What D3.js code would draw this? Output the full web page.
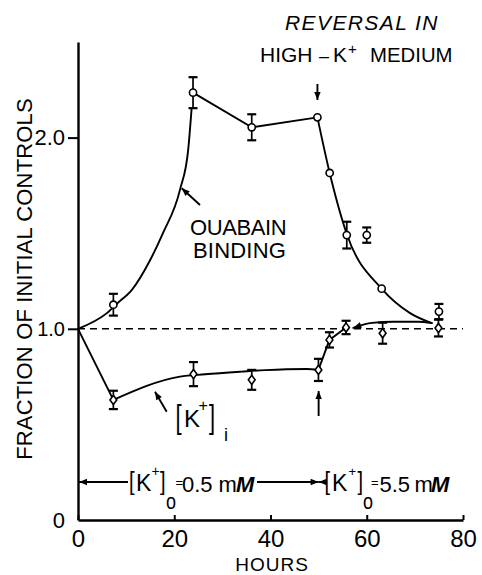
<!DOCTYPE html>
<html>
<head>
<meta charset="utf-8">
<script src="https://cdn.jsdelivr.net/npm/d3@7"></script>
<style>
  html, body { margin: 0; padding: 0; background: #fff; }
  svg { display: block; font-family: "Liberation Sans", Arial, Helvetica, sans-serif; }
</style>
</head>
<body>
<svg id="chart" width="482" height="575"></svg>
<script>
// Ouabain binding, fraction of initial controls
const ouabainHours  = [7.35, 23.9, 36.1, 49.75, 52.3, 55.85, 60.0, 63.1, 75.0];
const ouabainValues = [1.126, 2.235, 2.054, 2.106, 1.815, 1.49, 1.49, 1.21, 1.09];
const ouabainErrors = [0.057, 0.081, 0.068, 0, 0, 0.07, 0.04, 0, 0.04];

// Intracellular K+, fraction of initial controls
const kHours  = [7.35, 24.0, 36.1, 49.96, 52.25, 55.7, 63.3, 74.9];
const kValues = [0.628, 0.763, 0.733, 0.785, 0.942, 1.007, 0.977, 1.004];
const kErrors = [0.048, 0.063, 0.052, 0.058, 0.04, 0.035, 0.055, 0.044];

// Hand-drawn trend curves, [hours, fraction]
const ouabainRise    = [[0, 1.0], [6, 1.082], [8.3, 1.136], [11.2, 1.204], [15.0, 1.36], [17.7, 1.503], [21.2, 1.728], [22.9, 1.937], [23.6, 2.15]];
const ouabainPlateau = [[23.9, 2.235], [36.1, 2.054], [49.75, 2.106]];
const ouabainFall    = [[49.75, 2.106], [52.3, 1.815], [55.85, 1.496], [63.1, 1.21], [69.0, 1.082], [73.5, 1.03]];
const kFall          = [[0, 1.0], [7.35, 0.628]];
const kRecovery      = [[7.35, 0.628], [21.2, 0.75], [26.4, 0.762], [34.0, 0.776], [38.9, 0.784], [47.5, 0.79], [49.96, 0.786]];
const kShift         = [[49.96, 0.785], [52.25, 0.942], [55.7, 1.007]];
const kReturn        = [[57.2, 1.005], [61.1, 1.031], [65.5, 1.037], [70.7, 1.037], [73.5, 1.03]];

// Axis ticks
const xTicks = [0, 20, 40, 60, 80];
const yTicks = [0, 1, 2];
const yTickLabels = ["0", "1.0", "2.0"];
const yTickSizes = [22, 20, 22];

const baseline = 1.0;      // initial control level
const switchHour = 50;     // medium changed to high K+

const svg = d3.select("#chart");
const x = d3.scaleLinear().domain([0, 80]).range([78, 463]);
const y = d3.scaleLinear().domain([0, 2.5]).range([520, 42]);

const defs = svg.append("defs");
defs.append("marker")
  .attr("id", "ah").attr("viewBox", "0 -5 10 10")
  .attr("refX", 10).attr("refY", 0)
  .attr("markerUnits", "userSpaceOnUse")
  .attr("markerWidth", 9).attr("markerHeight", 8)
  .attr("orient", "auto-start-reverse")
  .append("path").attr("d", "M0,-4L10,0L0,4Z").attr("fill", "#000");

// ---- axes ----
const yAxis = svg.append("g")
  .attr("transform", `translate(${x(0)},0)`)
  .call(d3.axisLeft(y).tickValues(yTicks)
    .tickFormat((d, i) => yTickLabels[i])
    .tickSize(10).tickSizeOuter(0).tickPadding(3));
yAxis.select(".domain").attr("stroke", "#000").attr("stroke-width", 2.4);
yAxis.selectAll(".tick line").attr("stroke", "#000").attr("stroke-width", 2)
  .filter(d => d === 0).remove();
yAxis.selectAll(".tick text")
  .attr("font-size", (d, i) => yTickSizes[i])
  .attr("font-family", "Liberation Sans, Arial, sans-serif")
  .attr("fill", "#000");

const xAxis = svg.append("g")
  .attr("transform", `translate(0,${y(0)})`)
  .call(d3.axisBottom(x).tickValues(xTicks)
    .tickSizeInner(-5).tickSizeOuter(0).tickPadding(10));
xAxis.select(".domain").attr("stroke", "#000").attr("stroke-width", 2.4);
xAxis.selectAll(".tick line").attr("stroke", "#000").attr("stroke-width", 2);
xAxis.selectAll(".tick text")
  .attr("font-size", 24)
  .attr("font-family", "Liberation Sans, Arial, sans-serif")
  .attr("fill", "#000");

svg.append("text")
  .attr("x", 272).attr("y", 571)
  .attr("text-anchor", "middle").attr("font-size", 19).attr("letter-spacing", 1)
  .text("HOURS");

svg.append("text")
  .attr("transform", "translate(32,279) rotate(-90)")
  .attr("text-anchor", "middle").attr("font-size", 22).attr("letter-spacing", 0.15)
  .text("FRACTION OF INITIAL CONTROLS");

// ---- control level ----
svg.append("line")
  .attr("x1", x(0)).attr("x2", x(80))
  .attr("y1", y(baseline)).attr("y2", y(baseline))
  .attr("stroke", "#000").attr("stroke-width", 1.6)
  .attr("stroke-dasharray", "7,5");

// ---- trend curves ----
const smooth = d3.line().x(d => x(d[0])).y(d => y(d[1])).curve(d3.curveMonotoneX);
const straight = d3.line().x(d => x(d[0])).y(d => y(d[1]));
const curves = svg.append("g").attr("fill", "none").attr("stroke", "#000")
  .attr("stroke-width", 1.9).attr("stroke-linecap", "round");

curves.append("path").attr("d", smooth(ouabainRise));
curves.append("path").attr("d", straight(ouabainPlateau));
curves.append("path").attr("d", smooth(ouabainFall));
curves.append("path").attr("d", straight(kFall));
curves.append("path").attr("d", smooth(kRecovery));
curves.append("path").attr("d", straight(kShift));
curves.append("path").attr("d", smooth(kReturn)).attr("marker-start", "url(#ah)");

// ---- error bars ----
function errorBars(hours, values, errors) {
  const g = svg.append("g").attr("stroke", "#000");
  hours.forEach((h, i) => {
    const e = errors[i];
    if (!e) return;
    const cx = x(h), top = y(values[i] + e), bot = y(values[i] - e);
    g.append("line").attr("x1", cx).attr("x2", cx).attr("y1", top).attr("y2", bot).attr("stroke-width", 1.7);
    [top, bot].forEach(yy => g.append("line")
      .attr("x1", cx - 4.5).attr("x2", cx + 4.5).attr("y1", yy).attr("y2", yy).attr("stroke-width", 2.2));
  });
}
errorBars(ouabainHours, ouabainValues, ouabainErrors);
errorBars(kHours, kValues, kErrors);

// ---- markers ----
svg.append("g").selectAll("circle")
  .data(ouabainHours.map((h, i) => [h, ouabainValues[i]]))
  .join("circle")
  .attr("cx", d => x(d[0])).attr("cy", d => y(d[1])).attr("r", 3.6)
  .attr("fill", "#fff").attr("stroke", "#000").attr("stroke-width", 1.6);

svg.append("g").selectAll("path")
  .data(kHours.map((h, i) => [h, kValues[i]]))
  .join("path")
  .attr("transform", d => `translate(${x(d[0])},${y(d[1])})`)
  .attr("d", "M0,-4.6L3.4,0L0,4.6L-3.4,0Z")
  .attr("fill", "#fff").attr("stroke", "#000").attr("stroke-width", 1.6);

// ---- annotations ----
const ann = svg.append("g");
function arrow(x1, y1, x2, y2) {
  ann.append("line").attr("x1", x1).attr("y1", y1).attr("x2", x2).attr("y2", y2)
    .attr("stroke", "#000").attr("stroke-width", 1.9).attr("marker-end", "url(#ah)");
}
function glyph(txt, x0, yb, size, opts = {}) {
  const t = ann.append("text")
    .attr("transform", `translate(${x0},${yb}) scale(${opts.sx || 1},${opts.sy || 1})`)
    .attr("font-size", size).text(txt);
  if (opts.italic) t.attr("font-style", "italic");
  if (opts.bold) t.attr("font-weight", "bold");
  return t;
}

// reversal note
ann.append("text").attr("x", 285).attr("y", 30)
  .attr("font-size", 21).attr("font-style", "italic").attr("letter-spacing", 1.4)
  .text("REVERSAL IN");
glyph("HIGH", 260, 62, 21);
glyph("\u2013", 319, 62, 18);
glyph("K", 333, 62, 21);
glyph("+", 348, 54, 15);
glyph("MEDIUM", 370, 62, 21, { sx: 0.97 });
arrow(x(49.75), 84, x(49.75), 100);
arrow(x(switchHour), 416, x(switchHour), 391);

// curve labels
ann.append("text").attr("x", 190).attr("y", 235).attr("font-size", 22).attr("letter-spacing", -0.4).text("OUABAIN");
ann.append("text").attr("x", 193).attr("y", 258).attr("font-size", 22).attr("letter-spacing", 0.2).text("BINDING");
arrow(200, 205, 181.7, 188.3);

glyph("[", 175.5, 428, 22, { sy: 1.55 });
glyph("K", 184, 427, 24);
glyph("+", 198.5, 411, 16);
glyph("]", 209, 428, 22, { sy: 1.55 });
glyph("i", 224, 441, 18);
arrow(166.7, 411.7, 155, 391.7);

// external K+ periods
const periodY = 482;
arrow(128, periodY, x(0) + 1, periodY);
glyph("[", 129, 490, 20, { sy: 1.3 });
glyph("K", 136, 491, 23);
glyph("+", 151.5, 476, 14);
glyph("]", 160, 490, 20, { sy: 1.3 });
glyph("o", 166, 509, 18, { sy: 1.2 });
glyph("=", 175.5, 487, 13);
glyph("0.5", 182, 492, 22);
glyph("m", 218.5, 492, 22);
glyph("M", 236, 492, 22, { italic: true, bold: true });
arrow(257, periodY, x(switchHour), periodY);
arrow(x(switchHour) + 7, periodY, x(switchHour), periodY);

glyph("[", 324.5, 490, 20, { sy: 1.3 });
glyph("K", 332, 491, 23);
glyph("+", 348.5, 476, 13);
glyph("]", 357.5, 490, 20, { sy: 1.3 });
glyph("o", 363, 509, 18, { sy: 1.2 });
glyph("=", 371, 487, 13);
glyph("5.5", 379.5, 492, 22);
glyph("m", 414.5, 492, 22);
glyph("M", 431, 492, 22, { italic: true, bold: true });
</script>
</body>
</html>
